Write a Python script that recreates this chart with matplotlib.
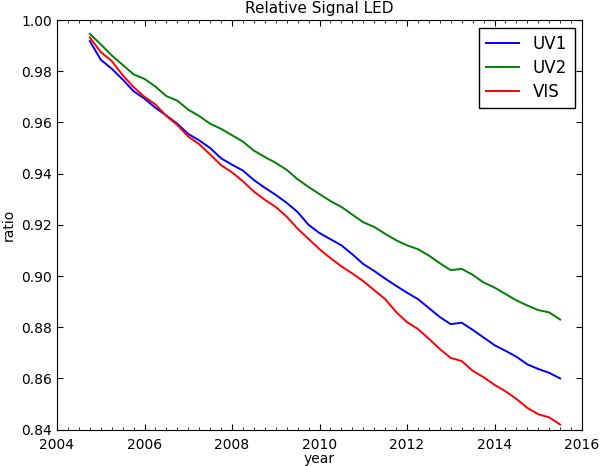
"""Relative Signal LED - degradation of the UV1/UV2/VIS LED channels."""

import matplotlib
matplotlib.use('Agg')
import matplotlib.pyplot as plt
from matplotlib.ticker import MultipleLocator

# Quarterly readings (decimal year)
years = [2004.75, 2005.00, 2005.25, 2005.50, 2005.75, 2006.00, 2006.25, 2006.50,
         2006.75, 2007.00, 2007.25, 2007.50, 2007.75, 2008.00, 2008.25, 2008.50,
         2008.75, 2009.00, 2009.25, 2009.50, 2009.75, 2010.00, 2010.25, 2010.50,
         2010.75, 2011.00, 2011.25, 2011.50, 2011.75, 2012.00, 2012.25, 2012.50,
         2012.75, 2013.00, 2013.25, 2013.50, 2013.75, 2014.00, 2014.25, 2014.50,
         2014.75, 2015.00, 2015.25, 2015.50]

uv1 = [0.9918, 0.9845, 0.9810, 0.9768, 0.9722, 0.9693, 0.9657, 0.9627,
       0.9595, 0.9555, 0.9530, 0.9500, 0.9460, 0.9435, 0.9412, 0.9375,
       0.9345, 0.9317, 0.9286, 0.9250, 0.9200, 0.9168, 0.9144, 0.9120,
       0.9085, 0.9047, 0.9020, 0.8990, 0.8962, 0.8935, 0.8910, 0.8875,
       0.8840, 0.8812, 0.8818, 0.8790, 0.8760, 0.8730, 0.8708, 0.8685,
       0.8655, 0.8637, 0.8622, 0.8600]

uv2 = [0.9946, 0.9905, 0.9862, 0.9825, 0.9788, 0.9770, 0.9740, 0.9703,
       0.9685, 0.9650, 0.9625, 0.9595, 0.9575, 0.9550, 0.9525, 0.9490,
       0.9465, 0.9442, 0.9415, 0.9378, 0.9348, 0.9320, 0.9293, 0.9270,
       0.9240, 0.9210, 0.9192, 0.9165, 0.9140, 0.9120, 0.9105, 0.9080,
       0.9050, 0.9023, 0.9028, 0.9005, 0.8975, 0.8955, 0.8930, 0.8905,
       0.8885, 0.8867, 0.8858, 0.8830]

vis = [0.9932, 0.9875, 0.9840, 0.9785, 0.9738, 0.9700, 0.9670, 0.9625,
       0.9590, 0.9545, 0.9515, 0.9475, 0.9433, 0.9405, 0.9370, 0.9330,
       0.9298, 0.9270, 0.9232, 0.9185, 0.9145, 0.9105, 0.9070, 0.9038,
       0.9010, 0.8980, 0.8945, 0.8910, 0.8860, 0.8820, 0.8793, 0.8755,
       0.8715, 0.8680, 0.8668, 0.8630, 0.8605, 0.8575, 0.8550, 0.8520,
       0.8485, 0.8460, 0.8448, 0.8420]

fig, ax = plt.subplots(figsize=(6.0, 4.66), dpi=100)
fig.subplots_adjust(left=0.095, right=0.97, bottom=0.078, top=0.957)

ax.plot(years, uv1, color='b', linewidth=1.4, label='UV1')
ax.plot(years, uv2, color='g', linewidth=1.4, label='UV2')
ax.plot(years, vis, color='r', linewidth=1.4, label='VIS')

ax.set_xlim(2004, 2016)
ax.set_ylim(0.84, 1.00)
ax.xaxis.set_major_locator(MultipleLocator(2))
ax.xaxis.set_minor_locator(MultipleLocator(0.25))
ax.yaxis.set_major_locator(MultipleLocator(0.02))
ax.yaxis.set_major_formatter(plt.FormatStrFormatter('%.2f'))
ax.tick_params(which='both', direction='in', top=True, right=True, labelsize=10)
ax.tick_params(which='major', length=4)
ax.tick_params(which='minor', length=2)
ax.tick_params(axis='x', pad=6)

ax.set_title('Relative Signal LED', fontsize=11, pad=5)
ax.set_xlabel('year', fontsize=10, labelpad=0)
ax.set_ylabel('ratio', fontsize=10)

leg = ax.legend(loc='upper right', fontsize=12, fancybox=False, framealpha=1,
                handlelength=2.0, labelspacing=0.35, borderaxespad=0.45,
                borderpad=0.45)
leg.get_frame().set_edgecolor('black')

fig.savefig('out.png', dpi=100)
